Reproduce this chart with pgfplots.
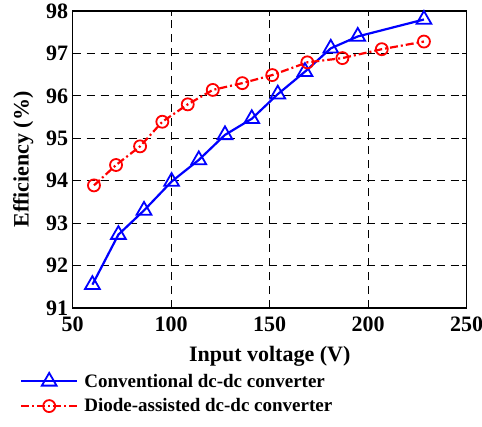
\documentclass[border=0pt]{standalone}
\usepackage{fontspec}
\setmainfont{Liberation Serif}
\usepackage{pgfplots}
\pgfplotsset{compat=1.18}
\begin{document}
\begin{tikzpicture}
\begin{axis}[
  scale only axis, width=394pt, height=297pt,
  xmin=50, xmax=250, ymin=91, ymax=98,
  xtick={50,100,150,200,250}, ytick={91,92,...,98},
  grid=major,
  major grid style={black, line width=1.1pt, dash pattern=on 8pt off 6pt},
  axis line style={black, line width=1.3pt},
  tick style={black, line width=1pt}, major tick length=5pt, tick align=inside,
  /pgf/number format/assume math mode=true,
  ticklabel style={font=\fontsize{22}{22}\selectfont\bfseries},
  xticklabel style={yshift=-5pt},
  yticklabel style={xshift=-1pt},
  xlabel={Input voltage (V)}, ylabel={Efficiency (\%)},
  label style={font=\fontsize{22}{22}\selectfont\bfseries},
  xlabel style={yshift=-8pt},
  ylabel style={yshift=6pt},
  legend cell align=left,
  legend style={at={(-0.134,-0.215)}, anchor=north west, draw=none, fill=none,
    font=\fontsize{19}{19}\selectfont\bfseries, inner sep=0pt, row sep=6pt,
    nodes={inner xsep=6pt}},
  legend image code/.code={\draw[mark repeat=2,mark phase=2] plot coordinates {(0pt,0pt) (28pt,0pt) (56pt,0pt)};},
]
\addplot[blue, line width=2.2pt, mark=triangle, mark size=8.5pt, mark options={solid, line width=1.8pt}] coordinates {
(60,91.55) (73.2,92.73) (86.2,93.30) (100.2,93.98) (114,94.49) (127.3,95.08)
(140.9,95.46) (154.1,96.04) (167.9,96.57) (181,97.12) (194.7,97.40) (228.3,97.80)};
\addlegendentry{Conventional dc-dc converter}
\addplot[red, line width=2.2pt, dash pattern=on 8pt off 3pt on 2pt off 3pt, mark=o, mark size=6pt, mark options={solid, line width=1.8pt}] coordinates {
(60.8,93.89) (72,94.37) (84.2,94.81) (95.5,95.39) (108.4,95.80) (121.1,96.14)
(136.1,96.30) (151.3,96.49) (169.1,96.79) (186.9,96.89) (206.9,97.10) (228.3,97.28)};
\addlegendentry{Diode-assisted dc-dc converter}
\end{axis}
\pgfresetboundingbox
\useasboundingbox (-72.7pt,-118pt) rectangle (409.3pt,308pt);
\end{tikzpicture}
\end{document}
